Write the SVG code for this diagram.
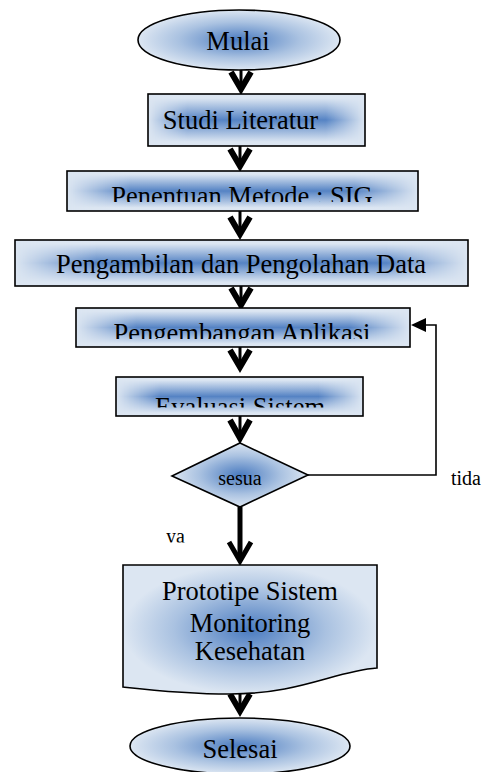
<svg xmlns="http://www.w3.org/2000/svg" width="489" height="772" viewBox="0 0 489 772">
<defs>
<linearGradient id="hg" x1="0" y1="0" x2="1" y2="0">
<stop offset="0" stop-color="#000"/><stop offset="0.18" stop-color="#fff"/><stop offset="0.82" stop-color="#fff"/><stop offset="1" stop-color="#000"/>
</linearGradient>
<mask id="hm" maskContentUnits="objectBoundingBox"><rect width="1" height="1" fill="url(#hg)"/></mask>
<linearGradient id="vg" x1="0" y1="0" x2="0" y2="1">
<stop offset="0.08" stop-color="#dce6f2"/><stop offset="0.5" stop-color="#5583c4"/><stop offset="0.92" stop-color="#dce6f2"/>
</linearGradient>
<radialGradient id="rg" cx="0.5" cy="0.5" r="0.5">
<stop offset="0" stop-color="#4a7bc0"/><stop offset="0.6" stop-color="#aac2e1"/><stop offset="1" stop-color="#dce6f2"/>
</radialGradient>
<clipPath id="c1"><rect x="0" y="160" width="489" height="42"/></clipPath>
<clipPath id="c2"><rect x="0" y="300" width="489" height="39"/></clipPath>
<clipPath id="c3"><rect x="0" y="380" width="489" height="27.5"/></clipPath>
<clipPath id="c4"><rect x="0" y="520" width="489" height="22.5"/></clipPath>
</defs>
<style>
.base{fill:#dce6f2}
.shade{fill:url(#vg)}
.border{fill:none;stroke:#000;stroke-width:1.6}
.rad{fill:url(#rg);stroke:#000;stroke-width:1.6}
.t{font-family:"Liberation Serif","Times New Roman",serif;font-size:26.5px;fill:#000;text-anchor:middle}
.s{font-family:"Liberation Serif","Times New Roman",serif;font-size:20px;fill:#000}
.head{fill:none;stroke:#000;stroke-width:6;stroke-linejoin:miter;stroke-linecap:butt}
.shaft{fill:none;stroke:#000;stroke-width:3}
.line{fill:none;stroke:#000;stroke-width:1.6}
</style>

<g id="connectors">
<path class="shaft" d="M241,68 V88"/><path class="head" d="M231,72 L241,89 L251,72"/>
<path class="shaft" d="M240,146 V165"/><path class="head" d="M230,149 L240,166 L250,149"/>
<path class="shaft" d="M240,211 V234"/><path class="head" d="M230,217 L240,234 L250,217"/>
<path class="shaft" d="M241,286 V305"/><path class="head" d="M231,288 L241,305 L251,288"/>
<path class="shaft" d="M240,347 V367"/><path class="head" d="M230,350 L240,367 L250,350"/>
<path class="shaft" d="M240,415 V440"/><path class="head" d="M230,420 L240,438 L250,420"/>
<path d="M240,507 V560" fill="none" stroke="#000" stroke-width="5"/>
<path d="M229,542 L240,561 L251,542" fill="none" stroke="#000" stroke-width="5"/>
<path class="shaft" d="M240,690 V711"/><path class="head" d="M230,694 L240,711 L250,694"/>
<path class="line" d="M308,475 H436 V325 H424"/>
<path d="M411,325 L426,318 L426,332 Z" fill="#000"/>
</g>

<g id="mulai">
<ellipse class="rad" cx="239" cy="40" rx="101" ry="30"/>
<text class="t" x="238" y="50">Mulai</text>
</g>

<g id="studi">
<rect class="base" x="148" y="94" width="217" height="52"/>
<rect class="shade" x="148" y="94" width="217" height="52" mask="url(#hm)"/>
<rect class="border" x="148" y="94" width="217" height="52"/>
<text class="t" x="240.5" y="129">Studi Literatur</text>
</g>

<g id="penentuan">
<rect class="base" x="67" y="171" width="351" height="40"/>
<rect class="shade" x="67" y="171" width="351" height="40" mask="url(#hm)"/>
<rect class="border" x="67" y="171" width="351" height="40"/>
<text class="t" x="242" y="205" clip-path="url(#c1)">Penentuan Metode : SIG</text>
</g>

<g id="pengambilan">
<rect class="base" x="15" y="240" width="453" height="46"/>
<rect class="shade" x="15" y="240" width="453" height="46" mask="url(#hm)"/>
<rect class="border" x="15" y="240" width="453" height="46"/>
<text class="t" x="241" y="273">Pengambilan dan Pengolahan Data</text>
</g>

<g id="pengembangan">
<rect class="base" x="76" y="308" width="334" height="39"/>
<rect class="shade" x="76" y="308" width="334" height="39" mask="url(#hm)"/>
<rect class="border" x="76" y="308" width="334" height="39"/>
<text class="t" x="242" y="342" clip-path="url(#c2)">Pengembangan Aplikasi</text>
</g>

<g id="evaluasi">
<rect class="base" x="116" y="377" width="247" height="39"/>
<rect class="shade" x="116" y="377" width="247" height="39" mask="url(#hm)"/>
<rect class="border" x="116" y="377" width="247" height="39"/>
<text class="t" x="240" y="415.5" clip-path="url(#c3)">Evaluasi Sistem</text>
</g>

<g id="sesuai">
<polygon class="rad" points="240,443 308,475 240,507 172,476"/>
<text class="s" x="240" y="485" text-anchor="middle">sesua</text>
</g>

<g id="labels">
<text class="s" x="166" y="543" clip-path="url(#c4)">ya</text>
<text class="s" x="451" y="485">tida</text>
</g>

<g id="prototipe">
<path class="rad" d="M123,565 H377 V668 C335,671 300,694 230,694 C185,694 150,690 123,687 Z"/>
<text class="t" x="250" y="600">Prototipe Sistem</text>
<text class="t" x="250" y="632">Monitoring</text>
<text class="t" x="250" y="660">Kesehatan</text>
</g>

<g id="selesai">
<ellipse class="rad" cx="240" cy="746" rx="110" ry="28"/>
<text class="t" x="240" y="758">Selesai</text>
</g>
</svg>
